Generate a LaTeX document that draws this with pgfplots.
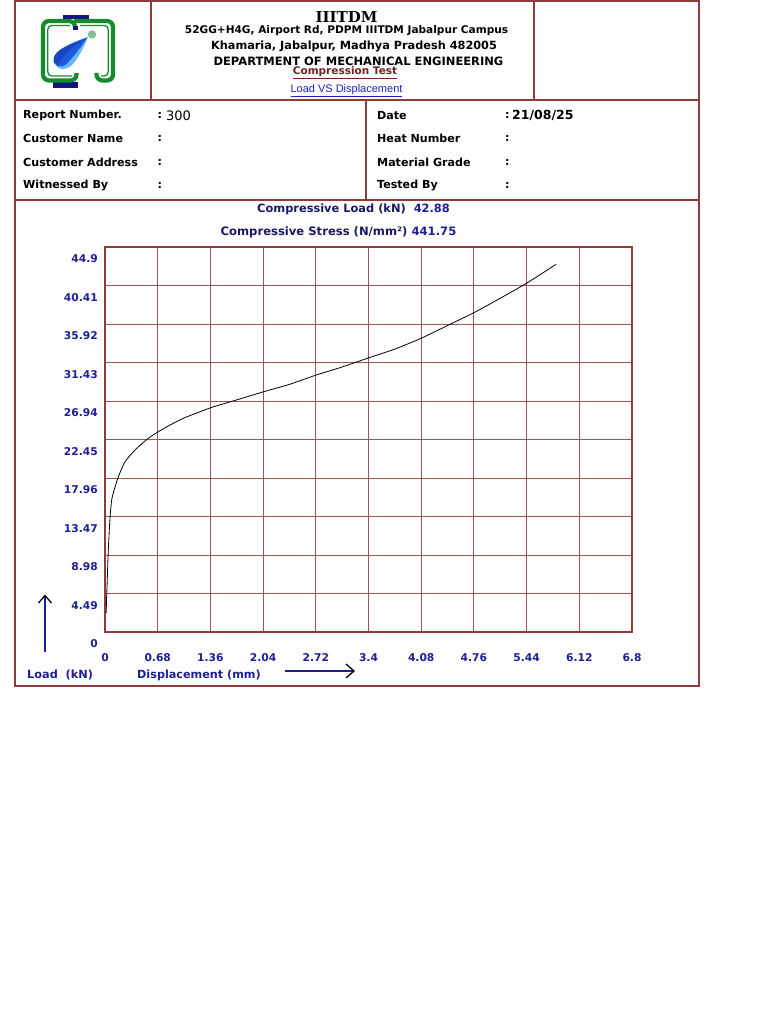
\documentclass[border=0pt]{standalone}
\usepackage{fontspec}
\setmainfont{DejaVu Sans}
\newfontfamily\serifb{DejaVu Serif}
\newfontfamily\arialf{Liberation Sans}
\usepackage{pgfplots}
\pgfplotsset{compat=1.18}
\definecolor{bord}{RGB}{140,60,60}
\definecolor{gridc}{RGB}{155,85,85}
\definecolor{navyt}{RGB}{25,25,100}
\definecolor{navyv}{RGB}{30,30,150}
\definecolor{maroon}{RGB}{120,30,30}
\definecolor{linkb}{RGB}{30,30,200}
\definecolor{lgreen}{RGB}{20,140,45}
\definecolor{lnavy}{RGB}{20,20,130}
\definecolor{dropb}{RGB}{30,90,225}
\definecolor{dropd}{RGB}{25,70,190}
\definecolor{dropl}{RGB}{100,185,240}
\definecolor{circg}{RGB}{130,190,150}
\begin{document}
\begin{tikzpicture}
\useasboundingbox (0pt,0pt) rectangle (768pt,-1024pt);
\fill[white] (0pt,0pt) rectangle (768pt,-1024pt);
\begin{scope}[x=1pt,y=-1pt]
% frame
\draw[bord, line width=2pt] (15,1) rectangle (699,686);
\draw[bord, line width=1.6pt] (15,100) -- (699,100);
\draw[bord, line width=1.6pt] (15,200) -- (699,200);
\draw[bord, line width=1.6pt] (151,1) -- (151,100);
\draw[bord, line width=1.6pt] (534,1) -- (534,100);
\draw[bord, line width=1.6pt] (366,100) -- (366,200);
% logo
\fill[lnavy] (63,15) rectangle (89,19.5);
\fill[lnavy] (53,82.5) rectangle (78,88);
\draw[lgreen, line width=4.2pt, rounded corners=6pt] (75,29) -- (75,21) -- (43,21) -- (43,80.5) -- (76.5,80.5) -- (76.5,73);
\draw[lgreen, line width=4.2pt, rounded corners=6pt] (74,21) -- (113,21) -- (113,80.5) -- (96.5,80.5) -- (96.5,73);
\draw[lgreen, line width=1.3pt, rounded corners=4pt] (70,25.5) -- (47.8,25.5) -- (47.8,76) -- (72,76);
\draw[lgreen, line width=1.3pt, rounded corners=4pt] (80,25.5) -- (108.2,25.5) -- (108.2,76) -- (101,76);
\fill[lnavy] (72.5,26.5) rectangle (77.5,30.5);
\fill[dropl] (88,37) .. controls (78,41) and (56,49) .. (55,60) .. controls (54,70) and (66,72) .. (73,64) .. controls (79,57) and (85,45) .. (88,37);
\fill[dropb] (87,37.5) .. controls (77,41) and (54,49) .. (53.5,59) .. controls (53,67) and (62,69) .. (67,63.5) .. controls (74,56) and (83,45) .. (87,37.5);
\fill[dropd] (84,39.5) .. controls (74,43) and (54.5,50) .. (54,59) .. controls (53.8,63) and (56,65) .. (58,65) .. controls (62,55) and (74,46) .. (84,39.5);
\fill[circg] (92,34.5) circle (4.2);
% header text
\node[font=\serifb\bfseries\fontsize{15}{16}\selectfont, inner sep=0pt] at (346.5,17) {IIITDM};
\node[font=\bfseries\fontsize{10.55}{12}\selectfont, inner sep=0pt] at (346.5,31) {52GG+H4G, Airport Rd, PDPM IIITDM Jabalpur Campus};
\node[font=\bfseries\fontsize{11.3}{13}\selectfont, inner sep=0pt] at (354,46) {Khamaria, Jabalpur, Madhya Pradesh 482005};
\node[font=\bfseries\fontsize{11.5}{13}\selectfont, inner sep=0pt] at (358.5,61) {DEPARTMENT OF MECHANICAL ENGINEERING};
\node[font=\bfseries\fontsize{10.5}{12}\selectfont, text=maroon, inner sep=0pt] at (345,72.5) {\underline{Compression Test}};
\node[font=\arialf\fontsize{11}{12}\selectfont, text=linkb, inner sep=0pt] at (346.5,91) {\underline{Load VS Displacement}};
% info
\begin{scope}[every node/.style={anchor=west, inner sep=0pt, font=\bfseries\fontsize{11.1}{13}\selectfont}]
\node at (23,115.5) {Report Number.};
\node at (23,138.5) {Customer Name};
\node at (23,162.5) {Customer Address};
\node at (23,185.5) {Witnessed By};
\node at (157.5,115.5) {:};
\node at (157.5,138.5) {:};
\node at (157.5,162.5) {:};
\node at (157.5,185.5) {:};
\node at (377,115.5) {Date};
\node at (377,138.5) {Heat Number};
\node at (377,162.5) {Material Grade};
\node at (377,185.5) {Tested By};
\node at (505,115.5) {:};
\node at (505,138.5) {:};
\node at (505,162.5) {:};
\node at (505,185.5) {:};
\end{scope}
\node[anchor=west, inner sep=0pt, font=\fontsize{13}{15}\selectfont] at (166,115.5) {300};
\node[anchor=west, inner sep=0pt, font=\bfseries\fontsize{12.5}{15}\selectfont] at (512,115.5) {21/08/25};
% chart titles
\node[font=\bfseries\fontsize{11.4}{13}\selectfont, inner sep=0pt] at (353.5,209) {\textcolor{navyt}{Compressive Load (kN)}\ \ \textcolor{navyv}{42.88}};
\node[font=\bfseries\fontsize{11.6}{13}\selectfont, inner sep=0pt] at (338.5,232) {\textcolor{navyt}{Compressive Stress (N/mm²)}\ \textcolor{navyv}{441.75}};
% bottom labels
\node[font=\bfseries\fontsize{11.3}{13}\selectfont, text=navyv, inner sep=0pt, anchor=west] at (27,675) {Load\ \ (kN)};
\node[font=\bfseries\fontsize{11.2}{13}\selectfont, text=navyv, inner sep=0pt, anchor=west] at (137,675) {Displacement (mm)};
\draw[navyv, line width=1.3pt] (45,652) -- (45,597);
\draw[black, line width=1.3pt] (38.5,603) -- (45,595.5) -- (51.5,603);
\draw[navyv, line width=1.3pt] (285,671) -- (353,671);
\draw[black, line width=1.3pt] (346,664) -- (354,671) -- (346,678);
\end{scope}
\begin{axis}[
  at={(105pt,-632pt)}, anchor=south west,
  scale only axis, width=527pt, height=385pt,
  xmin=0, xmax=6.8, ymin=0, ymax=44.9,
  xtick={0,0.68,1.36,2.04,2.72,3.4,4.08,4.76,5.44,6.12,6.8},
  xticklabels={0,0.68,1.36,2.04,2.72,3.4,4.08,4.76,5.44,6.12,6.8},
  ytick={0,4.49,8.98,13.47,17.96,22.45,26.94,31.43,35.92,40.41,44.9},
  yticklabels={0,4.49,8.98,13.47,17.96,22.45,26.94,31.43,35.92,40.41,44.9},
  major tick length=0pt,
  grid=major,
  major grid style={gridc, line width=1pt},
  axis line style={bord, line width=2pt},
  xticklabel style={anchor=center, yshift=-26pt, text=navyv, font=\bfseries\fontsize{10.7}{12}\selectfont, inner sep=0pt},
  yticklabel style={anchor=east, xshift=-7pt, yshift=-12pt, text=navyv, font=\bfseries\fontsize{10.7}{12}\selectfont, inner sep=0pt},
  clip=false,
]
\addplot[black, line width=0.8pt, smooth, tension=0.35] coordinates {
(0.015,2.2) (0.020,3.8) (0.028,5.8) (0.040,9.0) (0.056,12.0) (0.072,14.2)
(0.090,15.6) (0.129,16.9) (0.172,18.1) (0.258,19.86) (0.409,21.42) (0.559,22.59)
(0.688,23.36) (0.839,24.14) (1.010,24.92) (1.226,25.69) (1.377,26.2) (1.60,26.8)
(1.82,27.4) (2.039,28.0) (2.387,28.9) (2.735,30.0) (3.058,30.9) (3.394,31.95)
(3.742,33.0) (4.090,34.3) (4.477,36.0) (4.774,37.3) (5.135,39.1) (5.445,40.7)
(5.82,42.88)
};
\end{axis}
\end{tikzpicture}
\end{document}
